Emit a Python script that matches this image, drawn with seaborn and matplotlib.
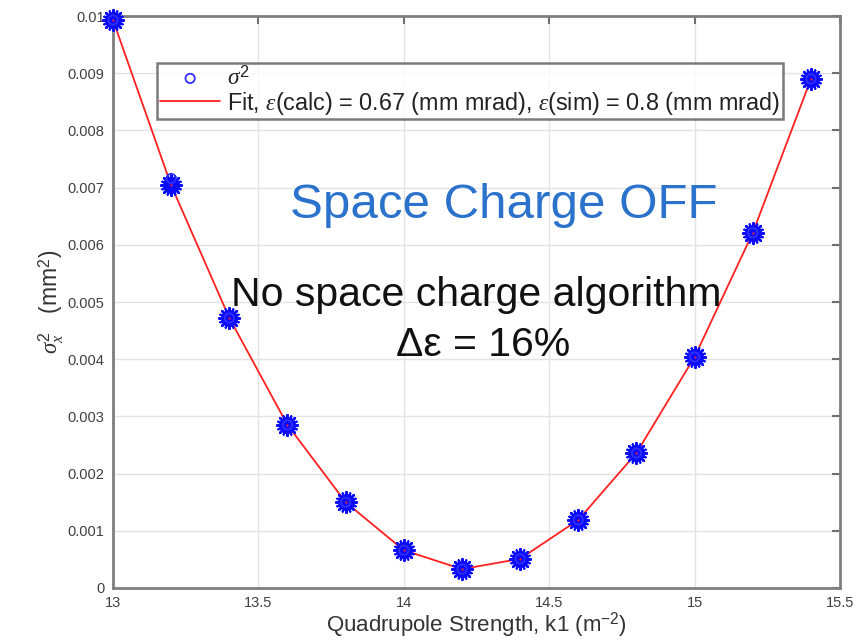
import numpy as np
import pandas as pd
import matplotlib
matplotlib.use("Agg")
import matplotlib.pyplot as plt
import seaborn as sns

# Quadrupole scan: k1 settings and beam size squared (mm^2)
k1 = [13.0, 13.2, 13.4, 13.6, 13.8, 14.0, 14.2, 14.4, 14.6, 14.8, 15.0, 15.2, 15.4]
sigma2_meas = [0.00993, 0.00716, 0.00472, 0.00285, 0.00150, 0.00066, 0.00033,
               0.00051, 0.00119, 0.00236, 0.00404, 0.00621, 0.00890]
sigma2_fit = [0.00993, 0.00704, 0.00472, 0.00285, 0.00150, 0.00066, 0.00033,
              0.00051, 0.00119, 0.00236, 0.00404, 0.00621, 0.00890]

x_ticks = [13, 13.5, 14, 14.5, 15, 15.5]
y_ticks = [0, 0.001, 0.002, 0.003, 0.004, 0.005, 0.006, 0.007, 0.008, 0.009, 0.01]
y_tick_labels = ["0", "0.001", "0.002", "0.003", "0.004", "0.005",
                 "0.006", "0.007", "0.008", "0.009", "0.01"]

df = pd.DataFrame({"k1": k1, "meas": sigma2_meas, "fit": sigma2_fit})

sns.set_style("white")
plt.rcParams["font.family"] = ["Liberation Sans", "DejaVu Sans"]
plt.rcParams["mathtext.fontset"] = "custom"
plt.rcParams["mathtext.rm"] = "Liberation Sans"
plt.rcParams["mathtext.it"] = "Liberation Serif:italic"

fig = plt.figure(figsize=(8.66, 6.41), dpi=100)
ax = fig.add_axes([0.1305, 0.0827, 0.8395, 0.8923])

# fitted curve
sns.lineplot(data=df, x="k1", y="fit", ax=ax, color="#ff2020", lw=1.3,
             label=r"Fit, $\epsilon$(calc) = 0.67 (mm mrad), $\epsilon$(sim) = 0.8 (mm mrad)",
             zorder=2)
# fit points drawn as dense blue asterisk blobs
sns.scatterplot(data=df, x="k1", y="fit", ax=ax, marker="o", s=140,
                color="#0a0aff", linewidth=0, zorder=3, legend=False, clip_on=False)
sns.scatterplot(data=df, x="k1", y="fit", ax=ax, marker=(8, 2, 0), s=220,
                color="#0a0aff", edgecolor="#0a0aff", linewidth=1.8, zorder=3,
                legend=False, clip_on=False)
sns.scatterplot(data=df, x="k1", y="fit", ax=ax, marker=(8, 2, 22.5), s=200,
                color="#0a0aff", edgecolor="#0a0aff", linewidth=1.6, zorder=3,
                legend=False, clip_on=False)
sns.scatterplot(data=df, x="k1", y="fit", ax=ax, marker=".", s=10,
                color="#ff2020", linewidth=0, zorder=4, legend=False, clip_on=False)
# measured sigma^2
sns.scatterplot(data=df, x="k1", y="meas", ax=ax, marker="o", s=110,
                facecolor="none", edgecolor="#3030ff", linewidth=1.3,
                label=r"$\sigma^2$", zorder=3, clip_on=False)

ax.set_xlim(13, 15.5)
ax.set_ylim(0, 0.01)
ax.set_xticks(x_ticks)
ax.set_xticklabels([f"{t:g}" for t in x_ticks])
ax.set_yticks(y_ticks)
ax.set_yticklabels(y_tick_labels)
ax.grid(True, color="#e3e3e3", lw=1.0)
ax.set_axisbelow(True)
for s in ax.spines.values():
    s.set_color("#7f7f7f")
    s.set_linewidth(2.0)
ax.tick_params(direction="in", length=6, width=1.5, color="#6f6f6f",
               top=True, right=True, labelsize=10.5, labelcolor="#404040", pad=6)

ax.set_xlabel(r"Quadrupole Strength, k1 (m$^{-2}$)", fontsize=16, color="#333333", labelpad=0)
ax.set_ylabel(r"$\sigma_x^2$   (mm$^2$)", fontsize=16.5, color="#333333", labelpad=1)

# legend: circle entry first, then fit line
h, l = ax.get_legend_handles_labels()
order = [1, 0]
hh = [h[i] for i in order]
hh[0].set_sizes([45])
leg = ax.legend(hh, [l[i] for i in order],
                loc="upper left", bbox_to_anchor=(0.0605, 0.918),
                fontsize=16.8, frameon=True, fancybox=False, borderaxespad=0,
                handlelength=2.6, handletextpad=0.3, borderpad=0.12, labelspacing=0.0)
leg.get_frame().set_edgecolor("#5a5a5a")
leg.get_frame().set_linewidth(1.8)
for t in leg.get_texts():
    t.set_color("#222222")

ax.text(0.538, 0.668, "Space Charge OFF", transform=ax.transAxes, ha="center", va="center",
        fontsize=35.5, color="#2a72cc")
ax.text(0.499, 0.512, "No space charge algorithm", transform=ax.transAxes, ha="center",
        va="center", fontsize=29.5, color="#111111")
ax.text(0.509, 0.425, "\u0394\u03b5 = 16%", transform=ax.transAxes, ha="center",
        va="center", fontsize=29.5, color="#111111")

fig.savefig("out.png", dpi=100)
